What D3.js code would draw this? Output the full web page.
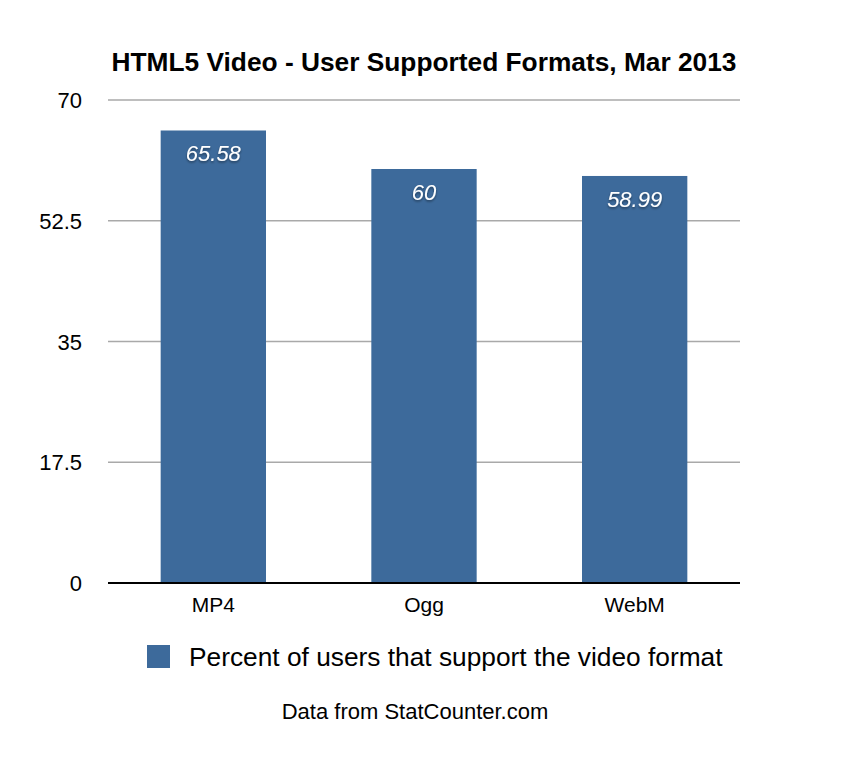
<!DOCTYPE html>
<html><head><meta charset="utf-8">
<script src="https://cdn.jsdelivr.net/npm/d3@7"></script>
<style>body{margin:0;background:#fff}svg{display:block}</style>
</head><body>
<script>
const categories = ["MP4", "Ogg", "WebM"];
const values = [65.58, 60, 58.99];
const valueLabels = ["65.58", "60", "58.99"];
const yTicks = [0, 17.5, 35, 52.5, 70];
const yTickLabels = ["0", "17.5", "35", "52.5", "70"];
const title = "HTML5 Video - User Supported Formats, Mar 2013";
const seriesName = "Percent of users that support the video format";
const footer = "Data from StatCounter.com";

(function () {
const W = 846, H = 764;
const mLeft = 108, mRight = 740, mTop = 100, mBottom = 583;
const color = "#3d6a9b";
const font = "'Liberation Sans', Arial, Helvetica, sans-serif";

const svg = d3.select("body").append("svg").attr("width", W).attr("height", H)
  .style("font-family", font);

const x = d3.scaleBand().domain(categories).range([mLeft, mRight]).paddingInner(0.5).paddingOuter(0.25);
const y = d3.scaleLinear().domain([0, 70]).range([mBottom, mTop]);

const defs = svg.append("defs");
const f = defs.append("filter").attr("id", "sh").attr("x", "-20%").attr("y", "-20%").attr("width", "140%").attr("height", "160%");
f.append("feDropShadow").attr("dx", 0).attr("dy", 1.5).attr("stdDeviation", 1.2).attr("flood-color", "#000").attr("flood-opacity", 0.45);

svg.append("text").attr("x", 424).attr("y", 71).attr("text-anchor", "middle")
  .attr("font-size", 26.3).attr("font-weight", "bold").attr("fill", "#000").text(title);

svg.append("g").selectAll("line").data(yTicks.filter(d => d > 0)).join("line")
  .attr("x1", mLeft).attr("x2", mRight).attr("y1", d => y(d)).attr("y2", d => y(d))
  .attr("stroke", "#a9a9a9").attr("stroke-width", 1.5);

svg.append("g").selectAll("text").data(yTicks).join("text")
  .attr("x", 82).attr("y", d => y(d) + 8).attr("text-anchor", "end")
  .attr("font-size", 22).attr("fill", "#000").text((d, i) => yTickLabels[i]);

svg.append("g").selectAll("rect").data(values).join("rect")
  .attr("x", (d, i) => x(categories[i])).attr("width", x.bandwidth())
  .attr("y", d => y(d)).attr("height", d => mBottom - y(d)).attr("fill", color);

svg.append("g").selectAll("text").data(values).join("text")
  .attr("x", (d, i) => x(categories[i]) + x.bandwidth() / 2).attr("y", d => y(d) + 31)
  .attr("text-anchor", "middle").attr("font-size", 22).attr("font-style", "italic")
  .attr("fill", "#fff").attr("filter", "url(#sh)").text((d, i) => valueLabels[i]);

svg.append("line").attr("x1", mLeft).attr("x2", mRight).attr("y1", mBottom).attr("y2", mBottom)
  .attr("stroke", "#000").attr("stroke-width", 2);

svg.append("g").selectAll("text").data(categories).join("text")
  .attr("x", d => x(d) + x.bandwidth() / 2).attr("y", 612).attr("text-anchor", "middle")
  .attr("font-size", 21).attr("fill", "#000").text(d => d);

svg.append("rect").attr("x", 147).attr("y", 645).attr("width", 23).attr("height", 23).attr("fill", color);
svg.append("text").attr("x", 189).attr("y", 666).attr("font-size", 26.3).attr("fill", "#000").text(seriesName);

svg.append("text").attr("x", 415).attr("y", 719).attr("text-anchor", "middle")
  .attr("font-size", 22).attr("fill", "#000").text(footer);
})();
</script>
</body></html>
